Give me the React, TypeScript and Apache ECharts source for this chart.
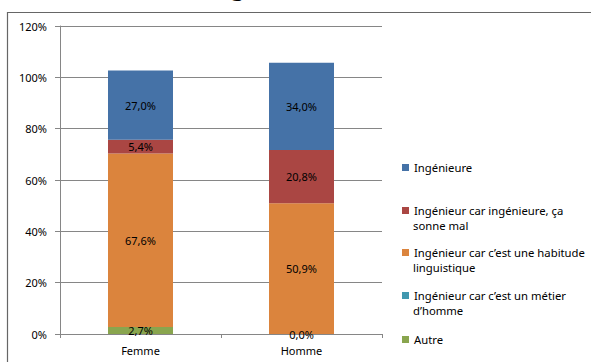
import React, { useEffect, useRef } from "react";
import * as echarts from "echarts";

const categories = ["Femme", "Homme"];
const seriesNames = [
  "Autre",
  "Ingénieur car c’est un métier d’homme",
  "Ingénieur car c’est une habitude linguistique",
  "Ingénieur car ingénieure, ça sonne mal",
  "Ingénieure",
];
const autre = [2.7, 0.0];
const metierHomme: (number | null)[] = [null, null];
const habitude = [67.6, 50.9];
const sonneMal = [5.4, 20.8];
const ingenieure = [27.0, 34.0];
const yTicks = [0, 20, 40, 60, 80, 100, 120];

const colors = ["#89A54E", "#4198AF", "#DB843D", "#AA4643", "#4572A7"];
const legendFirstLines: Record<string, string> = {
  "Ingénieure": "Ingénieure",
  "Ingénieur car ingénieure, ça sonne mal": "Ingénieur car ingénieure, ça",
  "Ingénieur car c’est une habitude linguistique": "Ingénieur car c’est une habitude",
  "Ingénieur car c’est un métier d’homme": "Ingénieur car c’est un métier",
  "Autre": "Autre",
};
const legendSecondLines = ["sonne mal", "linguistique", "d’homme"];

const FONT = "Noto Sans";

export default function App() {
  const ref = useRef<HTMLDivElement>(null);
  useEffect(() => {
    if (!ref.current) return;
    const chart = echarts.init(ref.current, null, { renderer: "svg" });
    const data = [autre, metierHomme, habitude, sonneMal, ingenieure];
    const fmt = (p: any) =>
      p.value === null || p.value === undefined
        ? ""
        : Number(p.value).toFixed(1).replace(".", ",") + "%";
    const legendTops = [157, 200, 242, 285, 329];
    const legendOrder = [4, 3, 2, 1, 0];
    chart.setOption({
      animation: false,
      backgroundColor: "#ffffff",
      color: colors,
      textStyle: { fontFamily: FONT },
      grid: { left: 60, right: 591 - 382, top: 26, bottom: 362 - 334 },
      legend: legendOrder.map((si, k) => ({
        data: [seriesNames[si]],
        left: 397,
        top: legendTops[k],
        orient: "vertical",
        itemWidth: 7,
        itemHeight: 7,
        icon: "rect",
        selectedMode: false,
        textStyle: { fontFamily: FONT, fontSize: 11.3, color: "#000" },
        formatter: (n: string) => legendFirstLines[n] || n,
      })),
      xAxis: {
        type: "category",
        data: categories,
        axisLine: { lineStyle: { color: "#868686" } },
        axisTick: { show: true, length: 4, lineStyle: { color: "#868686" } },
        axisLabel: { color: "#000", fontSize: 11, fontFamily: FONT, margin: 11 },
      },
      yAxis: {
        type: "value",
        min: 0,
        max: 120,
        interval: 20,
        axisLine: { show: true, lineStyle: { color: "#868686" } },
        axisTick: { show: true, length: 5, lineStyle: { color: "#868686" } },
        axisLabel: {
          color: "#000",
          fontSize: 11,
          fontFamily: FONT,
          margin: 13,
          formatter: (v: number) => (yTicks.includes(v) ? v + "%" : ""),
        },
        splitLine: { lineStyle: { color: "#868686" } },
      },
      series: seriesNames.map((name, i) => ({
        name,
        type: "bar",
        stack: "total",
        barWidth: 65,
        data: data[i],
        itemStyle: { color: colors[i] },
        label: {
          show: i !== 1,
          position: "inside",
          color: "#000",
          fontSize: 11,
          fontFamily: FONT,
          formatter: fmt,
        },
      })),
      graphic: [
        {
          type: "rect",
          shape: { x: 7.5, y: 12.5, width: 700, height: 500 },
          style: { fill: "none", stroke: "#666666", lineWidth: 1.2 },
          silent: true,
        },
        {
          type: "text",
          x: 231,
          y: -24,
          style: {
            text: "g",
            font: "bold 22px Noto Sans",
            fill: "#000",
            textVerticalAlign: "top",
          },
          silent: true,
        },
        ...legendSecondLines.map((t, k) => ({
          type: "text",
          x: 413,
          y: legendTops[k + 1] + 17 + 8.5,
          style: {
            text: t,
            font: "11.3px Noto Sans",
            fill: "#000",
            textVerticalAlign: "middle",
          },
          silent: true,
        })),
      ],
    });
    return () => chart.dispose();
  }, []);
  return (
    <div
      ref={ref}
      style={{ position: "fixed", left: 0, top: 0, width: 591, height: 362 }}
    />
  );
}
